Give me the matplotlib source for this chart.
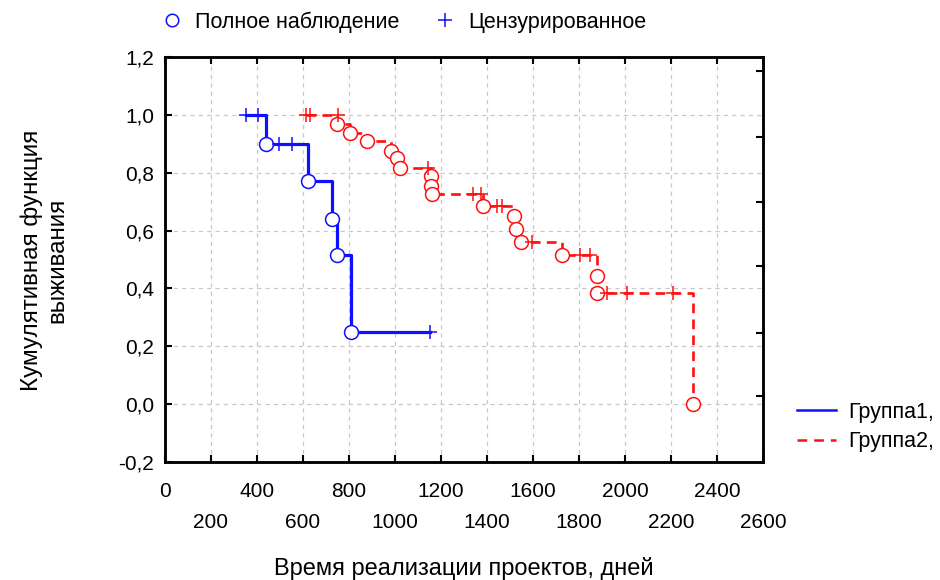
import matplotlib
matplotlib.use("Agg")
import matplotlib.pyplot as plt
from matplotlib.lines import Line2D
from matplotlib.ticker import FuncFormatter, FixedLocator

plt.rcParams['font.family'] = ['Liberation Sans', 'DejaVu Sans']
plt.rcParams['lines.scale_dashes'] = False

BLUE = '#1010ff'
RED = '#ff1010'

# group 1 (complete observations = events, censored = '+')
g1_start = 352
g1_event_t = [439, 622, 726, 748, 809]
g1_event_s = [0.90, 0.77, 0.64, 0.515, 0.25]
g1_cens_t = [352, 404, 496, 552, 1152]
g1_cens_s = [1.0, 1.0, 0.90, 0.90, 0.25]
g1_end = 1152

# group 2
g2_start = 613
g2_event_t = [748, 804, 878, 983, 1009, 1022, 1157, 1157, 1160, 1383,
              1517, 1526, 1548, 1726, 1878, 1878, 2296]
g2_event_s = [0.969, 0.938, 0.91, 0.875, 0.85, 0.816, 0.788, 0.753, 0.726, 0.684,
              0.649, 0.604, 0.559, 0.517, 0.444, 0.385, 0.0]
g2_cens_t = [613, 630, 752, 1143, 1339, 1375, 1443, 1465, 1596, 1804, 1848,
             1922, 2009, 2209]
g2_cens_s = [1.0, 1.0, 1.0, 0.816, 0.726, 0.726, 0.684, 0.684, 0.559, 0.517, 0.517,
             0.385, 0.385, 0.385]
g2_end = 2296

x_major = [0, 400, 800, 1200, 1600, 2000, 2400]
x_minor = [200, 600, 1000, 1400, 1800, 2200, 2600]
y_ticks = [-0.2, 0.0, 0.2, 0.4, 0.6, 0.8, 1.0, 1.2]
right_ticks = [0.028, 0.247, 0.476, 0.698, 0.924, 1.153]

fig = plt.figure(figsize=(9.4, 5.8), dpi=100)
ax = fig.add_axes([165 / 940, 118 / 580, 598 / 940, 405 / 580])


def km_steps(start, ev_t, ev_s, end):
    xs = [start] + list(ev_t) + [end]
    ys = [1.0] + list(ev_s) + [ev_s[-1]]
    return xs, ys


x1, y1 = km_steps(g1_start, g1_event_t, g1_event_s, g1_end)
x2, y2 = km_steps(g2_start, g2_event_t, g2_event_s, g2_end)
ax.step(x1, y1, where='post', color=BLUE, lw=2.3, zorder=3)
ax.step(x2, y2, where='post', color=RED, lw=1.9, dashes=(7, 4.5), zorder=3)

mk = dict(ls='none', ms=10, mew=1.1, zorder=4)
ax.plot(g1_event_t, g1_event_s, marker='o', mfc='white', mec=BLUE, **mk)
ax.plot(g2_event_t, g2_event_s, marker='o', mfc='white', mec=RED, **mk)
ax.plot(g1_cens_t, g1_cens_s, marker='+', color=BLUE, ls='none', ms=10, mew=1.1, zorder=4)
ax.plot(g2_cens_t, g2_cens_s, marker='+', color=RED, ls='none', ms=10, mew=1.1, zorder=4)

ax.set_xlim(0, 2600)
ax.set_ylim(-0.2, 1.2)
ax.xaxis.set_major_locator(FixedLocator(x_major))
ax.xaxis.set_minor_locator(FixedLocator(x_minor))
ax.xaxis.set_major_formatter(FuncFormatter(lambda v, p: f'{v:.0f}'))
ax.xaxis.set_minor_formatter(FuncFormatter(lambda v, p: f'{v:.0f}'))
ax.set_yticks(y_ticks)
ax.yaxis.set_major_formatter(FuncFormatter(lambda v, p: f'{v:.1f}'.replace('.', ',')))

ax.tick_params(axis='both', which='both', direction='in', length=5, width=1.5,
               labelsize=15, top=True)
ax.tick_params(axis='x', which='major', pad=14.5)
ax.tick_params(axis='x', which='minor', pad=36.5)
ax.tick_params(axis='y', pad=8)

ax.grid(True, which='both', color='#c8c8c8', lw=0.9, dashes=(3, 3))
for s in ax.spines.values():
    s.set_linewidth(1.8)

ax2 = ax.twinx()
ax2.set_ylim(ax.get_ylim())
ax2.set_yticks(right_ticks)
ax2.tick_params(axis='y', direction='in', length=5, width=1.5, labelright=False)
for s in ax2.spines.values():
    s.set_linewidth(1.8)

# top legend
h_top = [Line2D([], [], marker='o', ls='none', mfc='white', mec=BLUE, ms=9, mew=1.1),
         Line2D([], [], marker='+', ls='none', color=BLUE, ms=10, mew=1.1)]
fig.legend(h_top, ['Полное наблюдение', 'Цензурированное'], loc='center left',
           bbox_to_anchor=(163 / 940, 1 - 22 / 580), ncol=2, frameon=False,
           fontsize=15.5, handlelength=0.85, handletextpad=0.65, columnspacing=1.7,
           borderpad=0, borderaxespad=0)

# group legend
h_grp = [Line2D([], [], color=BLUE, lw=1.8),
         Line2D([], [], color=RED, lw=1.8, dashes=(7, 5))]
fig.legend(h_grp, ['Группа1,', 'Группа2,'], loc='center left',
           bbox_to_anchor=(797 / 940, 1 - 427 / 580), frameon=False,
           fontsize=15.5, handlelength=1.8, handletextpad=0.6, labelspacing=0.4,
           borderpad=0, borderaxespad=0)

fig.text(464 / 940, 1 - 569 / 580, 'Время реализации проектов, дней',
         ha='center', va='center', fontsize=17)
fig.text(44 / 940, 1 - 260 / 580, 'Кумулятивная функция\nвыживания',
         ha='center', va='center', rotation=90, fontsize=17.5,
         multialignment='center', linespacing=1.2)

fig.savefig('out.png', dpi=100)
